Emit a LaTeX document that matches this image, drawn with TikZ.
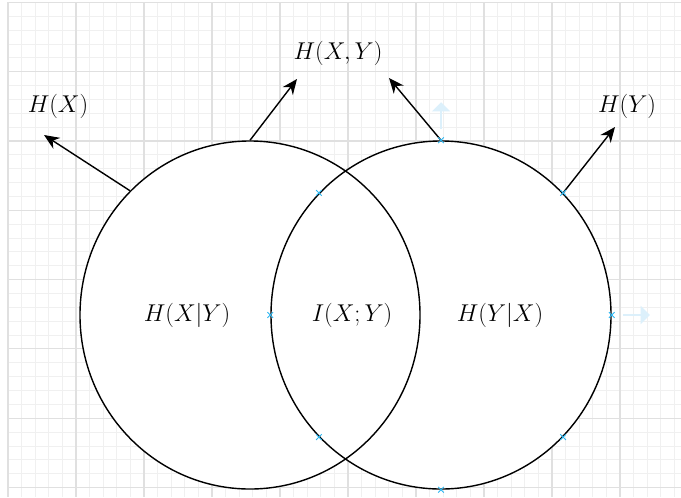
\documentclass[tikz,border=0pt]{standalone}
\usepackage{amsmath,amssymb}
\usepackage{xcolor}
\usetikzlibrary{arrows.meta,shapes.geometric,shapes.misc,shapes.arrows}

\definecolor{gridmajor}{HTML}{E0E0E0}
\definecolor{gridminor}{HTML}{F0F0F0}
\definecolor{handleblue}{HTML}{29B6F2}
\definecolor{hintblue}{HTML}{DCF0FB}

\tikzset{
  venn/.style={ellipse,draw,line width=1.2pt,inner sep=0pt,
    minimum width=10.2cm,minimum height=10.44cm},
  lbl/.style={font=\fontsize{21.5}{25}\selectfont,inner sep=1pt},
  ptr/.style={line width=1.2pt,-{Stealth[length=13pt,width=11pt]}},
  handle/.style={cross out,draw=handleblue,line width=0.8pt,
    minimum size=4pt,inner sep=0pt},
  hint/.style={single arrow,fill=hintblue,draw=none,inner sep=0pt,
    minimum height=0.8cm,minimum width=0.55cm,single arrow head extend=2pt}
}

\begin{document}
\begin{tikzpicture}[x=0.03cm,y=-0.03cm]
  \useasboundingbox[fill=white] (0,0) rectangle (681,497);
  % grid
  \foreach \i in {0,...,49}
    \draw[gridminor,line width=0.7pt] (8+13.6*\i,2) -- (8+13.6*\i,497);
  \foreach \j in {0,...,35}
    \draw[gridminor,line width=0.7pt] (8,2.4+13.86*\j) -- (681,2.4+13.86*\j);
  \foreach \i in {0,...,9}
    \draw[gridmajor,line width=0.9pt] (8+68*\i,2) -- (8+68*\i,497);
  \foreach \j in {0,...,7}
    \draw[gridmajor,line width=0.9pt] (8,2.4+69.3*\j) -- (681,2.4+69.3*\j);

  % the two sets
  \fill[white] (250,315) ellipse [x radius=170,y radius=174];
  \fill[white] (441,315) ellipse [x radius=170,y radius=174];
  \node[venn] (hx) at (250,315) {};
  \node[venn] (hy) at (441,315) {};

  % region labels
  \node[lbl] (hxgy) at (187,315) {$H(X|Y)$};
  \node[lbl] (ixy)  at (352,315) {$I(X;Y)$};
  \node[lbl] (hygx) at (500,315) {$H(Y|X)$};

  % outer labels
  \node[lbl] (lhx)  at (58,106)  {$H(X)$};
  \node[lbl] (lhxy) at (338,53)  {$H(X,Y)$};
  \node[lbl] (lhy)  at (627,106) {$H(Y)$};
  \coordinate (thx)  at (44,135);
  \coordinate (thxa) at (297,79);
  \coordinate (thxb) at (389,78);
  \coordinate (thy)  at (615,127);

  \draw[ptr] (hx.134) -- (thx);
  \draw[ptr] (hx.north) -- (thxa);
  \draw[ptr] (hy.north) -- (thxb);
  \draw[ptr] (hy.45) -- (thy);

  % selection handles
  \node[hint,rotate=90] (hup) at (441,116) {};
  \node[hint] (hright) at (636,315) {};
  \foreach \a in {0,45,...,315}
    \node[handle] at (hy.\a) {};
\end{tikzpicture}
\end{document}
